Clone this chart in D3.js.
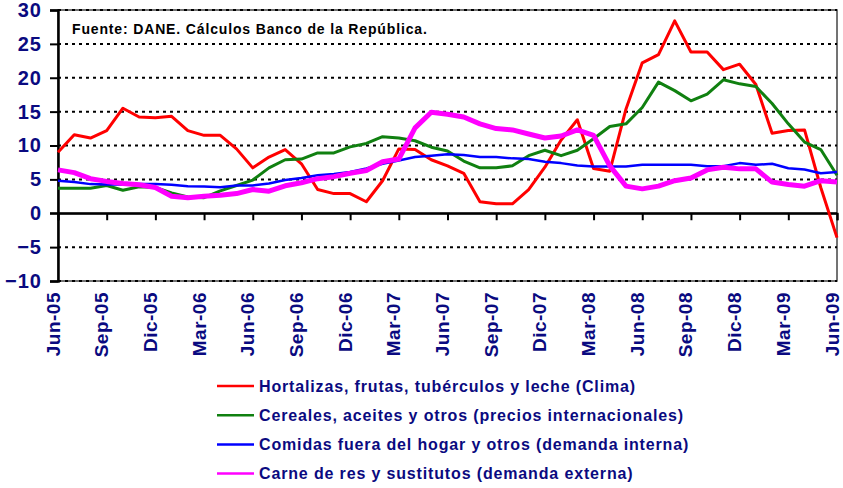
<!DOCTYPE html>
<html>
<head>
<meta charset="utf-8">
<script src="https://d3js.org/d3.v7.min.js"></script>
<style>
    body { margin: 0; background: #ffffff; }
    svg { display: block; font-family: Arial, "Liberation Sans", sans-serif; }
</style>
</head>
<body>
<div id="chart"></div>
<script>

// monthly, Jun-05 .. Jun-09 (49 points)
var hortalizas = [9.0, 11.6, 11.1, 12.2, 15.5, 14.2, 14.1, 14.3, 12.2, 11.5,
    11.5, 9.5, 6.7, 8.3, 9.4, 7.3, 3.5, 2.9, 2.9, 1.7,
    4.8, 9.5, 9.4, 7.9, 7.0, 5.9, 1.7, 1.4, 1.4, 3.5,
    6.8, 10.8, 13.8, 6.6, 6.2, 15.4, 22.2, 23.4, 28.4, 23.8,
    23.8, 21.2, 22.0, 19.0, 11.8, 12.2, 12.3, 3.8, -3.6];

var cereales = [3.7, 3.7, 3.7, 4.1, 3.4, 3.9, 3.8, 3.0, 2.4, 2.3,
    3.3, 4.1, 4.9, 6.7, 7.9, 8.0, 8.9, 8.9, 9.8, 10.3,
    11.3, 11.1, 10.7, 9.75, 9.2, 7.7, 6.7, 6.7, 7.0, 8.5,
    9.3, 8.5, 9.3, 11.0, 12.8, 13.2, 15.6, 19.35, 18.1, 16.6,
    17.6, 19.7, 19.1, 18.7, 16.2, 13.2, 10.5, 9.4, 5.6];

var comidas = [4.8, 4.6, 4.3, 4.25, 4.25, 4.3, 4.3, 4.2, 4.0, 3.95,
    3.85, 4.1, 4.1, 4.4, 4.9, 5.2, 5.6, 5.8, 6.1, 6.6,
    7.3, 7.8, 8.3, 8.5, 8.7, 8.6, 8.3, 8.3, 8.1, 8.0,
    7.6, 7.4, 7.05, 6.9, 6.9, 6.9, 7.15, 7.15, 7.15, 7.15,
    6.95, 6.95, 7.4, 7.15, 7.3, 6.65, 6.45, 5.9, 6.1];

var carne = [6.4, 6.0, 5.1, 4.7, 4.4, 4.2, 3.8, 2.5, 2.3, 2.5,
    2.65, 2.9, 3.5, 3.25, 4.05, 4.5, 5.1, 5.4, 5.9, 6.3,
    7.6, 8.0, 12.6, 14.9, 14.6, 14.2, 13.2, 12.5, 12.3, 11.7,
    11.1, 11.4, 12.3, 11.5, 7.0, 4.0, 3.6, 4.0, 4.8, 5.2,
    6.4, 6.8, 6.55, 6.55, 4.6, 4.25, 4.0, 4.8, 4.6];

var tickLabels = ["Jun-05", "Sep-05", "Dic-05", "Mar-06", "Jun-06", "Sep-06", "Dic-06",
    "Mar-07", "Jun-07", "Sep-07", "Dic-07", "Mar-08", "Jun-08", "Sep-08", "Dic-08",
    "Mar-09", "Jun-09"];

var yTicks = [-10, -5, 0, 5, 10, 15, 20, 25, 30];

var seriesNames = ["Hortalizas, frutas, tubérculos y leche (Clima)",
    "Cereales, aceites y otros (precios internacionales)",
    "Comidas fuera del hogar y otros (demanda interna)",
    "Carne de res y sustitutos (demanda externa)"];

var seriesColors = ["#ff0000", "#108010", "#0000ff", "#ff00ff"];
var seriesWidths = [3, 3, 2.5, 5];

var fuente = "Fuente: DANE. Cálculos Banco de la República.";

var width = 843, height = 488;
var plot = {left: 58, right: 837, top: 10, bottom: 281};
var navy = "#0a0a80";

var svg = d3.select("#chart").append("svg")
    .attr("width", width)
    .attr("height", height);

var x = d3.scaleLinear()
    .domain([0, hortalizas.length - 1])
    .range([plot.left, plot.right]);

var y = d3.scaleLinear()
    .domain([-10, 30])
    .range([plot.bottom, plot.top]);

// frame
svg.append("rect")
    .attr("x", plot.left)
    .attr("y", plot.top)
    .attr("width", plot.right - plot.left)
    .attr("height", plot.bottom - plot.top)
    .attr("fill", "none")
    .attr("stroke", "#444")
    .attr("stroke-width", 1.5);

// dotted grid
svg.append("g").selectAll("line")
    .data(yTicks.filter(function(d){ return d != 0; }))
    .enter().append("line")
    .attr("x1", plot.left)
    .attr("x2", plot.right)
    .attr("y1", function(d){ return y(d); })
    .attr("y2", function(d){ return y(d); })
    .attr("stroke", "#000")
    .attr("stroke-width", 2)
    .attr("stroke-dasharray", "3,4");

// y axis
var yAxis = d3.axisLeft(y)
    .tickValues(yTicks)
    .tickSize(8)
    .tickPadding(8)
    .tickFormat(d3.format("d"));

var gy = svg.append("g")
    .attr("transform", "translate(" + plot.left + ",0)")
    .call(yAxis);
gy.select(".domain").attr("stroke", "#000").attr("stroke-width", 2.5);
gy.selectAll(".tick line").attr("stroke", "#000").attr("stroke-width", 2);
gy.selectAll(".tick text")
    .attr("fill", navy)
    .attr("font-size", "20px")
    .attr("font-weight", "bold")
    .attr("letter-spacing", "1px")
    .attr("font-family", "Arial, 'Liberation Sans', sans-serif");

// x axis on zero line
var tickIdx = tickLabels.map(function(d, i){ return i * 3; });
var xAxis = d3.axisBottom(x)
    .tickValues(tickIdx)
    .tickSize(7)
    .tickFormat("");

var gx = svg.append("g")
    .attr("transform", "translate(0," + y(0) + ")")
    .call(xAxis);
gx.select(".domain").attr("stroke", "#000").attr("stroke-width", 2);
gx.selectAll(".tick line").attr("stroke", "#000").attr("stroke-width", 2);

// zero line extends to the left tick
svg.append("line")
    .attr("x1", plot.left - 8)
    .attr("x2", plot.right)
    .attr("y1", y(0))
    .attr("y2", y(0))
    .attr("stroke", "#000")
    .attr("stroke-width", 2);

// rotated month labels below plot
svg.append("g").selectAll("text")
    .data(tickLabels)
    .enter().append("text")
    .attr("transform", function(d, i){
        return "translate(" + x(i * 3) + "," + (plot.bottom + 11) + ") rotate(-90)";
    })
    .attr("dy", "0.08em")
    .attr("text-anchor", "end")
    .attr("fill", navy)
    .attr("font-size", "19px")
    .attr("font-weight", "bold")
    .attr("letter-spacing", "0.5px")
    .text(function(d){ return d; });

// series lines
var allSeries = [hortalizas, cereales, comidas, carne];

var line = d3.line()
    .x(function(d, i){ return x(i); })
    .y(function(d){ return y(d); });

svg.append("g").selectAll("path")
    .data(allSeries)
    .enter().append("path")
    .attr("d", function(d){ return line(d); })
    .attr("fill", "none")
    .attr("stroke", function(d, i){ return seriesColors[i]; })
    .attr("stroke-width", function(d, i){ return seriesWidths[i]; })
    .attr("stroke-linejoin", "round");

// source note
svg.append("text")
    .attr("x", 72)
    .attr("y", 34)
    .attr("fill", "#000")
    .attr("font-size", "14px")
    .attr("font-weight", "bold")
    .attr("letter-spacing", "0.85px")
    .text(fuente);

// legend
var legend = svg.append("g").selectAll("g")
    .data(seriesNames)
    .enter().append("g")
    .attr("transform", function(d, i){ return "translate(217," + (386 + i * 29.2) + ")"; });

legend.append("line")
    .attr("x1", 0)
    .attr("x2", 37)
    .attr("stroke", function(d, i){ return seriesColors[i]; })
    .attr("stroke-width", 2.5);

legend.append("text")
    .attr("x", 42)
    .attr("dy", "0.36em")
    .attr("fill", navy)
    .attr("font-size", "16px")
    .attr("font-weight", "bold")
    .attr("letter-spacing", "0.85px")
    .text(function(d){ return d; });

</script>
</body>
</html>
